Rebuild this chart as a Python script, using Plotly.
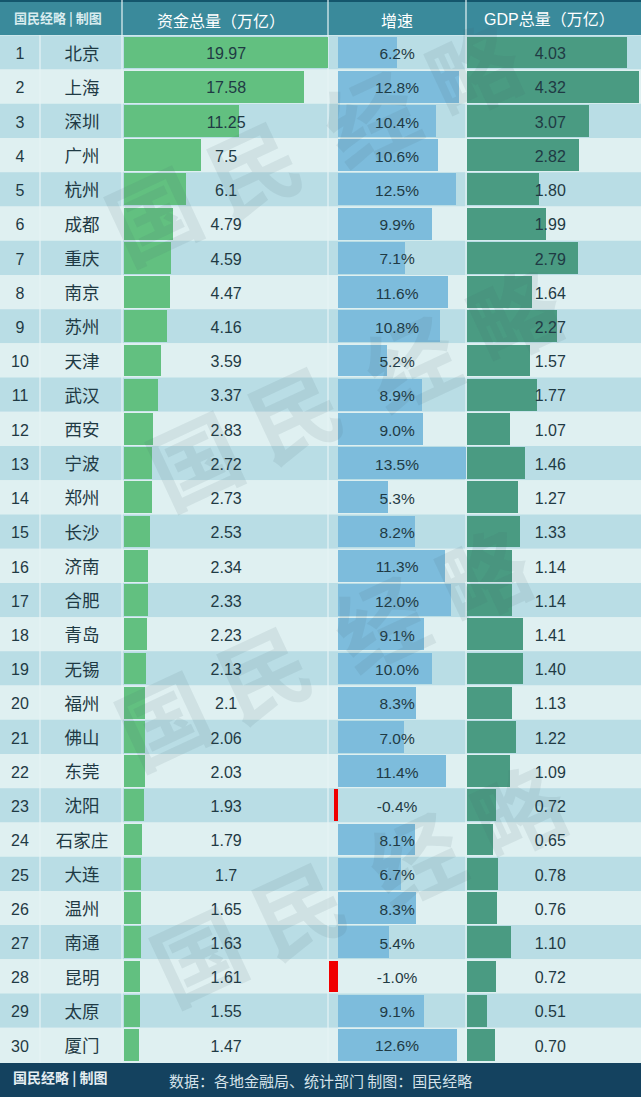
import plotly.graph_objects as go

W, H = 641, 1097
CJK = "Noto Sans CJK SC"
NUM = "Liberation Sans, Noto Sans CJK SC"

ranks = list(range(1, 31))
cities = ["北京", "上海", "深圳", "广州", "杭州", "成都", "重庆", "南京", "苏州", "天津",
          "武汉", "西安", "宁波", "郑州", "长沙", "济南", "合肥", "青岛", "无锡", "福州",
          "佛山", "东莞", "沈阳", "石家庄", "大连", "温州", "南通", "昆明", "太原", "厦门"]
capital_labels = ["19.97", "17.58", "11.25", "7.5", "6.1", "4.79", "4.59", "4.47", "4.16", "3.59",
                  "3.37", "2.83", "2.72", "2.73", "2.53", "2.34", "2.33", "2.23", "2.13", "2.1",
                  "2.06", "2.03", "1.93", "1.79", "1.7", "1.65", "1.63", "1.61", "1.55", "1.47"]
growth = [6.2, 12.8, 10.4, 10.6, 12.5, 9.9, 7.1, 11.6, 10.8, 5.2,
          8.9, 9.0, 13.5, 5.3, 8.2, 11.3, 12.0, 9.1, 10.0, 8.3,
          7.0, 11.4, -0.4, 8.1, 6.7, 8.3, 5.4, -1.0, 9.1, 12.6]
gdp_labels = ["4.03", "4.32", "3.07", "2.82", "1.80", "1.99", "2.79", "1.64", "2.27", "1.57",
              "1.77", "1.07", "1.46", "1.27", "1.33", "1.14", "1.14", "1.41", "1.40", "1.13",
              "1.22", "1.09", "0.72", "0.65", "0.78", "0.76", "1.10", "0.72", "0.51", "0.70"]
capital = [float(v) for v in capital_labels]
gdp = [float(v) for v in gdp_labels]
growth_labels = [f"{v:.1f}%" for v in growth]

# column edges in page pixels
COL_RANK, COL_CAP, COL_GROWTH, COL_GDP = 40, 124, 328, 466
ROW_PITCH, FIRST_ROW = 34.22, 52.5

BAND_DARK, BAND_LIGHT = "#b9dde5", "#dff0f1"
GREEN, BLUE, SEA, RED = "#62c080", "#7dbcdc", "#4a9b82", "#f00000"
INK = "#1f3a44"


def to_paper(x):
    return x / W


fig = go.Figure()
no_line = dict(width=0)

# row bands
shapes = []
for r in ranks:
    shapes.append(dict(type="rect", xref="paper", yref="y", x0=0, x1=1, y0=r - 0.5, y1=r + 0.5,
                       fillcolor=BAND_DARK if r % 2 else BAND_LIGHT, line=no_line, layer="below"))
# header and footer
shapes.append(dict(type="rect", xref="paper", yref="paper", x0=0, x1=1, y0=1 - 35 / H, y1=1,
                   fillcolor="#3a8a9b", line=no_line, layer="below"))
shapes.append(dict(type="rect", xref="paper", yref="paper", x0=0, x1=1, y0=1 - 2 / H, y1=1,
                   fillcolor="#14566c", line=no_line, layer="below"))
shapes.append(dict(type="rect", xref="paper", yref="paper", x0=0, x1=1, y0=0, y1=34 / H,
                   fillcolor="#14425f", line=no_line, layer="below"))
# column separators
for x, top in [(COL_RANK, 35), (COL_CAP - 2, 0), (COL_GROWTH, 0), (COL_GDP, 0)]:
    shapes.append(dict(type="line", xref="paper", yref="paper", x0=to_paper(x), x1=to_paper(x),
                       y0=34 / H, y1=1 - top / H,
                       line=dict(color="#e6f3f5", width=1.2), layer="below"))

text_font = dict(family=NUM, size=16, color=INK)
# row text sits a little under the middle of its bar
text_y = [r + 0.08 for r in ranks]

fig.add_trace(go.Scatter(x=[20] * 30, y=text_y, text=[str(r) for r in ranks], mode="text",
                         textfont=text_font, xaxis="x", yaxis="y", hoverinfo="skip"))
fig.add_trace(go.Scatter(x=[82] * 30, y=text_y, text=cities, mode="text",
                         textfont=dict(family=CJK, size=17.5, color=INK),
                         xaxis="x", yaxis="y", hoverinfo="skip"))

fig.add_trace(go.Bar(x=capital, y=ranks, orientation="h", width=0.93, marker=dict(color=GREEN, line=no_line),
                     xaxis="x2", yaxis="y"))
fig.add_trace(go.Scatter(x=[10] * 30, y=text_y, text=capital_labels, mode="text", textfont=text_font,
                         xaxis="x2", yaxis="y"))

growth_colors = [RED if v < 0 else BLUE for v in growth]
fig.add_trace(go.Bar(x=growth, y=ranks, orientation="h", width=0.93,
                     marker=dict(color=growth_colors, line=no_line), xaxis="x3", yaxis="y"))
fig.add_trace(go.Scatter(x=[6.25] * 30, y=text_y, text=growth_labels, mode="text",
                         textfont=dict(family=NUM, size=15.5, color=INK), xaxis="x3", yaxis="y"))

fig.add_trace(go.Bar(x=gdp, y=ranks, orientation="h", width=0.93, marker=dict(color=SEA, line=no_line),
                     xaxis="x4", yaxis="y"))
fig.add_trace(go.Scatter(x=[2.09] * 30, y=text_y, text=gdp_labels, mode="text", textfont=text_font,
                         xaxis="x4", yaxis="y"))

annotations = []


def label(x, y, text, size, color="white", family=CJK):
    annotations.append(dict(xref="paper", yref="paper", x=to_paper(x), y=1 - y / H, text=text, showarrow=False,
                            xanchor="center", yanchor="middle",
                            font=dict(family=family, size=size, color=color)))


label(58, 18, "<b>国民经略 | 制图</b>", 13, color="#d8ecef")
label(221, 20, "资金总量（万亿）", 16)
label(397, 20, "增速", 16)
label(549, 20, "GDP总量（万亿）", 16, family=NUM)
label(60, 1077, "<b>国民经略 | 制图</b>", 14, color="#e5eef2")
label(320, 1080, "数据：各地金融局、统计部门 制图：国民经略", 15, color="#d5e2ea")

# watermark, one glyph at a time over the bars
for ax, ay in [(152, 212), (193, 457), (162, 717), (197, 953)]:
    for ch, dx, dy in [("国", 0, 0), ("民", 100, -47), ("经", 217, -97), ("略", 320, -145)]:
        annotations.append(dict(xref="paper", yref="paper", x=to_paper(ax + dx), y=1 - (ay + dy) / H,
                                text="<b>" + ch + "</b>", showarrow=False, textangle=-25,
                                xanchor="center", yanchor="middle",
                                font=dict(family=CJK, size=90, color="rgba(70,95,105,0.1)")))

hidden = dict(visible=False)
fig.update_layout(
    width=W, height=H, margin=dict(l=0, r=0, t=0, b=0), autosize=False,
    paper_bgcolor=BAND_LIGHT, plot_bgcolor="rgba(0,0,0,0)", showlegend=False,
    bargap=0, barmode="overlay", shapes=shapes, annotations=annotations,
    xaxis=dict(domain=[0, 1], range=[0, W], **hidden),
    xaxis2=dict(domain=[to_paper(COL_CAP), to_paper(COL_CAP + 204)], range=[0, 19.97], anchor="y", **hidden),
    xaxis3=dict(domain=[to_paper(COL_GROWTH), to_paper(COL_GDP)], range=[-1.06, 13.55], anchor="y", **hidden),
    xaxis4=dict(domain=[to_paper(467), to_paper(641)], range=[0, 4.37], anchor="y", **hidden),
    yaxis=dict(domain=[0, 1], range=[1 + (H - FIRST_ROW) / ROW_PITCH, 1 - FIRST_ROW / ROW_PITCH], **hidden),
)

# page body has a default margin that would push the chart off the window
fig.write_html("out.html", config={"displayModeBar": False}, post_script="document.body.style.margin='0';")
